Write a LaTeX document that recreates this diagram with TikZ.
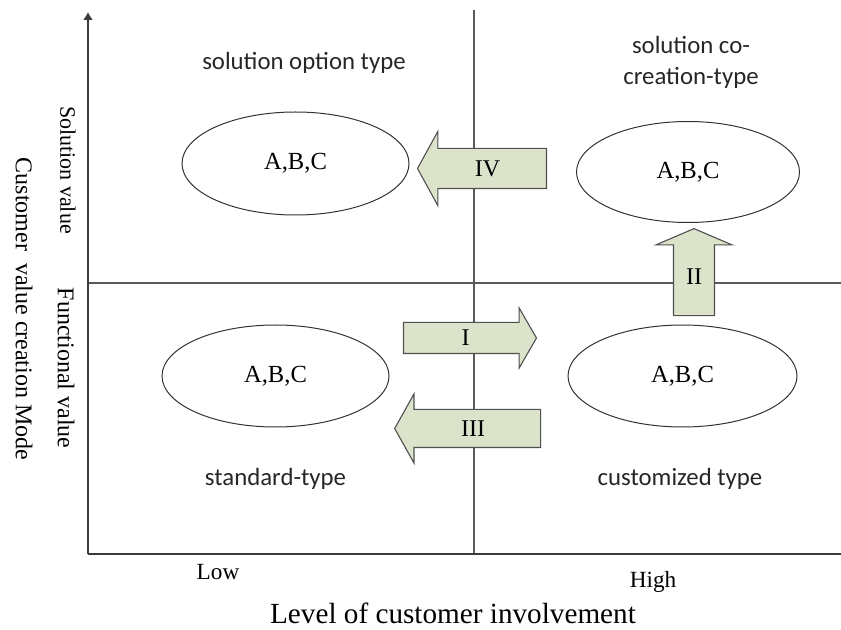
\documentclass[tikz,border=0pt]{standalone}
\usepackage{fontspec}
\setmainfont{Liberation Serif}
\newfontfamily\quadfont{Carlito}
\usepackage{tikz}
\usetikzlibrary{arrows.meta,shapes.geometric,shapes.arrows}
\definecolor{axisgray}{HTML}{3C3C3C}
\definecolor{linegray}{HTML}{5A5A5A}
\definecolor{sagefill}{HTML}{DCE3CB}
\definecolor{sagedraw}{HTML}{505050}
\tikzset{
  axis/.style={draw=axisgray, line width=0.75pt},
  divider/.style={draw=linegray, line width=0.65pt},
  group/.style={draw=black!80, ellipse, line width=0.5pt, inner sep=0pt, font=\fontsize{12.3}{14}\selectfont},
  quadlabel/.style={font=\quadfont\fontsize{12.4}{15.5}\selectfont, align=center, text=black!85},
  blockarrow/.style={single arrow, draw=sagedraw, fill=sagefill, line width=0.55pt, text height=8pt, text depth=0pt, inner xsep=0pt, font=\fontsize{12}{14}\selectfont},
  axislabel/.style={font=\fontsize{12}{14}\selectfont, rotate=-90},
  ticklabel/.style={font=\fontsize{11.6}{14}\selectfont, anchor=base}
}

\begin{document}
\begin{tikzpicture}[x=0.5pt, y=-0.5pt]
  \useasboundingbox (0,0) rectangle (841,630);

  % axes and quadrant lines
  \coordinate (origin) at (88,554);
  \coordinate (ytop) at (88,12);
  \coordinate (xend) at (841,554);
  \coordinate (midtop) at (474,10);
  \coordinate (midbottom) at (474,554);
  \coordinate (midleft) at (88,283);
  \coordinate (midright) at (841,283);
  \draw[divider] (midtop) -- (midbottom);
  \draw[divider] (midleft) -- (midright);
  \draw[axis, -{Latex[length=4pt,width=5pt]}] (origin) -- (ytop);
  \draw[axis] (origin) -- (xend);

  % quadrant groups
  \node[group, minimum width=113.5pt, minimum height=51.5pt] (optiongroup) at (295.5,163.5) {A,B,C};
  \node[group, minimum width=111.5pt, minimum height=50.5pt] (cocreategroup) at (688,172) {A,B,C};
  \node[group, minimum width=113.5pt, minimum height=51pt] (standardgroup) at (275.5,376) {A,B,C};
  \node[group, minimum width=114.5pt, minimum height=51pt] (customgroup) at (682.5,376) {A,B,C};

  \node[quadlabel, anchor=base] (optiontype) at (304,70) {solution option type};
  \node[quadlabel] (cocreatetype) at (691,62) {solution co-\\creation-type};
  \node[quadlabel, anchor=base] (standardtype) at (275.5,486) {standard-type};
  \node[quadlabel, anchor=base] (customtype) at (680,486) {customized type};

  % transitions
  \node[blockarrow, shape border rotate=180, minimum height=64.5pt, inner ysep=5.75pt,
        single arrow head extend=8.5pt, single arrow tip angle=122.6] (shiftIV) at (487.5,168.5) {IV};
  \node[blockarrow, minimum height=66.5pt, inner ysep=3.5pt,
        single arrow head extend=7.25pt, single arrow tip angle=120] (shiftI) at (465.5,338) {I};
  \node[blockarrow, shape border rotate=180, minimum height=73pt, inner ysep=5.25pt,
        single arrow head extend=7.75pt, single arrow tip angle=121.6] (shiftIII) at (473,428.5) {III};
  \node[blockarrow, shape border rotate=90, minimum height=43.5pt, inner xsep=6pt, inner ysep=0pt,
        single arrow head extend=8.75pt, single arrow tip angle=133.7] (shiftII) at (694,276.5) {II};

  % axis labels
  \node[axislabel, font=\fontsize{11}{13}\selectfont] (solutionvalue) at (68,170) {Solution value};
  \node[axislabel] (functionalvalue) at (66,368) {Functional value};
  \node[axislabel] (modelabel) at (24,309) {Customer \ value creation Mode};
  \node[ticklabel] (lowlabel) at (218,580) {Low};
  \node[ticklabel] (highlabel) at (653,588) {High};
  \node[anchor=base, font=\fontsize{14.6}{17}\selectfont] (involvement) at (453,623) {Level of customer involvement};
\end{tikzpicture}
\end{document}
